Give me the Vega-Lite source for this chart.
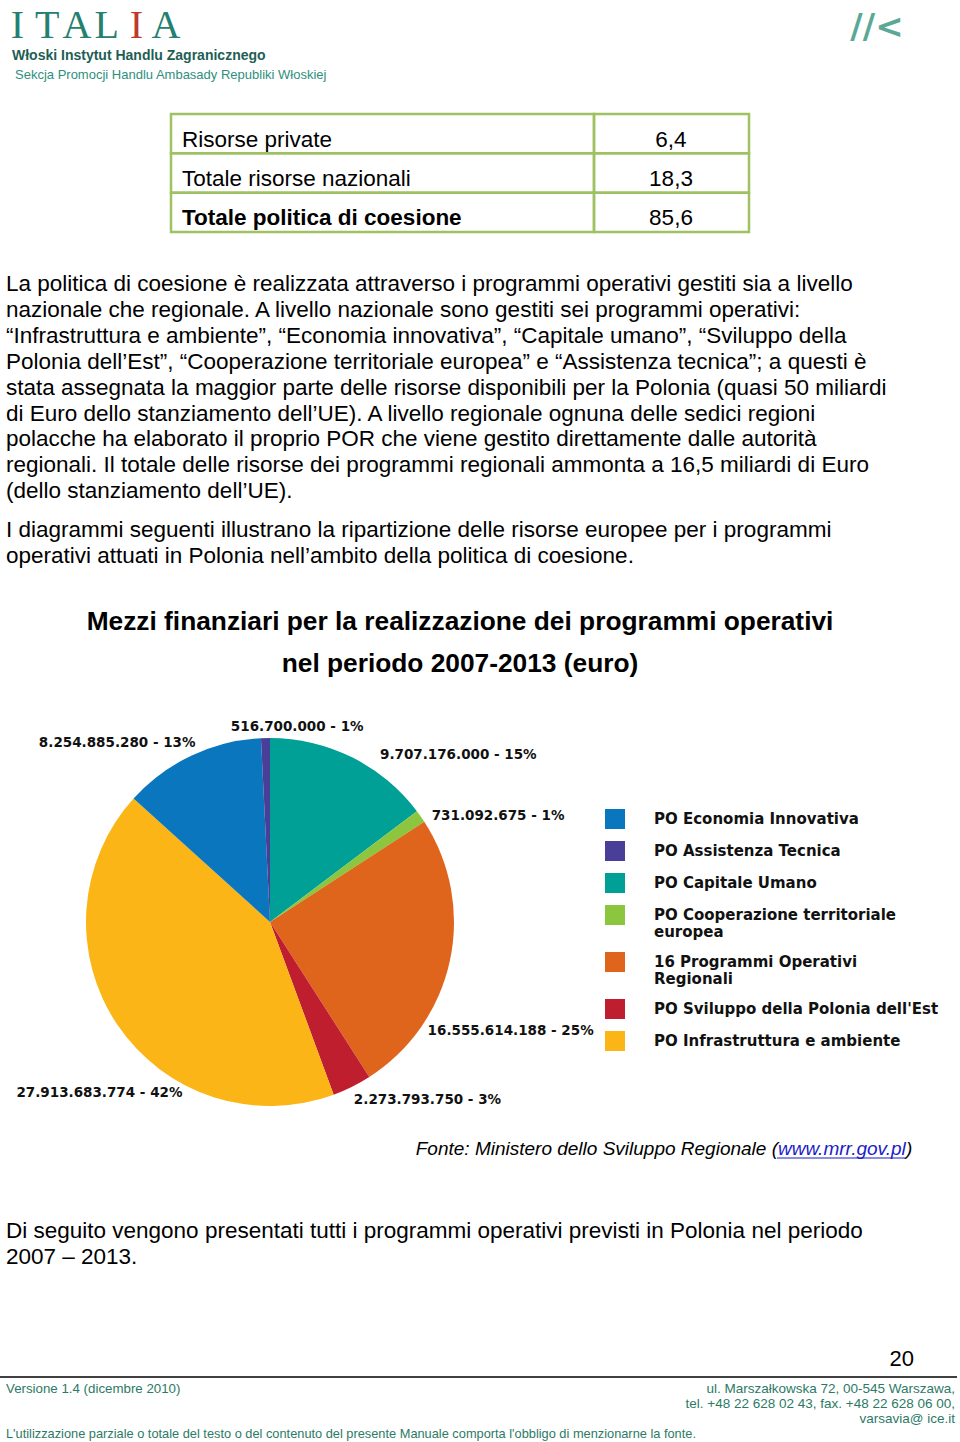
{
  "$schema": "https://vega.github.io/schema/vega-lite/v6.json",
  "width": 960,
  "height": 1442,
  "autosize": {"type": "none"},
  "padding": 0,
  "background": "#ffffff",
  "config": {"view": {"stroke": null}, "text": {"font": "Liberation Sans"}},
  "datasets": {
    "pie": [
      {"program": "PO Capitale Umano", "value": 9707176000, "label": "9.707.176.000 - 15%", "ord": 1},
      {"program": "PO Cooperazione territoriale europea", "value": 731092675, "label": "731.092.675 - 1%", "ord": 2},
      {"program": "16 Programmi Operativi Regionali", "value": 16555614188, "label": "16.555.614.188 - 25%", "ord": 3},
      {"program": "PO Sviluppo della Polonia dell'Est", "value": 2273793750, "label": "2.273.793.750 - 3%", "ord": 4},
      {"program": "PO Infrastruttura e ambiente", "value": 27913683774, "label": "27.913.683.774 - 42%", "ord": 5},
      {"program": "PO Economia Innovativa", "value": 8254885280, "label": "8.254.885.280 - 13%", "ord": 6},
      {"program": "PO Assistenza Tecnica", "value": 516700000, "label": "516.700.000 - 1%", "ord": 7}
    ],
    "table": [
      {"item": "Risorse private", "value": "6,4"},
      {"item": "Totale risorse nazionali", "value": "18,3"},
      {"item": "Totale politica di coesione", "value": "85,6"}
    ],
    "logo": [
      {"letter": "I", "pos": 0},
      {"letter": "T", "pos": 1},
      {"letter": "A", "pos": 2},
      {"letter": "L", "pos": 3},
      {"letter": "I", "pos": 4},
      {"letter": "A", "pos": 5}
    ]
  },
  "layer": [
    {
      "data": {"name": "logo"},
      "mark": {"type": "text", "font": "Liberation Serif", "fontSize": 40, "align": "center", "baseline": "alphabetic"},
      "encoding": {
        "text": {"field": "letter"},
        "x": {"field": "pos", "type": "ordinal", "scale": {"type": "point", "range": [17.5, 166], "padding": 0}, "axis": null},
        "y": {"value": 38},
        "color": {"condition": {"test": "datum.pos == 4", "value": "#C0392B"}, "value": "#24806F"}
      }
    },
    {
      "data": {"values": [{"text": "Włoski Instytut Handlu Zagranicznego"}]},
      "mark": {"type": "text", "fontSize": 14, "fontWeight": "bold", "align": "left", "baseline": "alphabetic", "color": "#1E5E54"},
      "encoding": {"text": {"field": "text"}, "x": {"value": 12}, "y": {"value": 60}}
    },
    {
      "data": {"values": [{"text": "Sekcja Promocji Handlu Ambasady Republiki Włoskiej"}]},
      "mark": {"type": "text", "fontSize": 13, "align": "left", "baseline": "alphabetic", "color": "#2F8F7E"},
      "encoding": {"text": {"field": "text"}, "x": {"value": 15}, "y": {"value": 79}}
    },
    {
      "data": {"values": [{"text": "//<"}]},
      "mark": {"type": "text", "font": "DejaVu Sans", "fontSize": 34, "fontWeight": "bold", "align": "center", "baseline": "alphabetic", "color": "#5BA896"},
      "encoding": {"text": {"field": "text"}, "x": {"value": 877}, "y": {"value": 38}}
    },
    {
      "data": {"name": "table"},
      "mark": {"type": "rect", "filled": false, "stroke": "#9EC162", "strokeWidth": 2.5},
      "encoding": {
        "y": {"field": "item", "type": "nominal", "sort": null, "scale": {"range": [114, 232], "paddingInner": 0, "paddingOuter": 0}, "axis": null},
        "x": {"value": 171},
        "x2": {"value": 594}
      }
    },
    {
      "data": {"name": "table"},
      "mark": {"type": "rect", "filled": false, "stroke": "#9EC162", "strokeWidth": 2.5},
      "encoding": {
        "y": {"field": "item", "type": "nominal", "sort": null, "axis": null},
        "x": {"value": 594},
        "x2": {"value": 749}
      }
    },
    {
      "data": {"name": "table"},
      "mark": {"type": "text", "fontSize": 22.5, "align": "left", "baseline": "alphabetic", "dy": 13, "color": "#000000",
        "fontWeight": {"expr": "datum.item == 'Totale politica di coesione' ? 'bold' : 'normal'"}},
      "encoding": {
        "text": {"field": "item"},
        "y": {"field": "item", "type": "nominal", "sort": null, "axis": null},
        "x": {"value": 182}
      }
    },
    {
      "data": {"name": "table"},
      "mark": {"type": "text", "fontSize": 22.5, "align": "center", "baseline": "alphabetic", "dy": 13, "color": "#000000"},
      "encoding": {
        "text": {"field": "value"},
        "y": {"field": "item", "type": "nominal", "sort": null, "axis": null},
        "x": {"value": 671}
      }
    },
    {
      "data": {"values": [{"text": "La politica di coesione è realizzata attraverso i programmi operativi gestiti sia a livello\nnazionale che regionale. A livello nazionale sono gestiti sei programmi operativi:\n“Infrastruttura e ambiente”, “Economia innovativa”, “Capitale umano”, “Sviluppo della\nPolonia dell’Est”, “Cooperazione territoriale europea” e “Assistenza tecnica”; a questi è\nstata assegnata la maggior parte delle risorse disponibili per la Polonia (quasi 50 miliardi\ndi Euro dello stanziamento dell’UE). A livello regionale ognuna delle sedici regioni\npolacche ha elaborato il proprio POR che viene gestito direttamente dalle autorità\nregionali. Il totale delle risorse dei programmi regionali ammonta a 16,5 miliardi di Euro\n(dello stanziamento dell’UE)."}]},
      "mark": {"type": "text", "fontSize": 22.5, "align": "left", "baseline": "alphabetic", "lineBreak": "\n", "lineHeight": 25.9, "color": "#000000"},
      "encoding": {"text": {"field": "text"}, "x": {"value": 6}, "y": {"value": 291}}
    },
    {
      "data": {"values": [{"text": "I diagrammi seguenti illustrano la ripartizione delle risorse europee per i programmi\noperativi attuati in Polonia nell’ambito della politica di coesione."}]},
      "mark": {"type": "text", "fontSize": 22.5, "align": "left", "baseline": "alphabetic", "lineBreak": "\n", "lineHeight": 25.9, "color": "#000000"},
      "encoding": {"text": {"field": "text"}, "x": {"value": 6}, "y": {"value": 537}}
    },
    {
      "data": {"values": [{"text": "Mezzi finanziari per la realizzazione dei programmi operativi\nnel periodo 2007-2013 (euro)"}]},
      "mark": {"type": "text", "fontSize": 26.3, "fontWeight": "bold", "align": "center", "baseline": "alphabetic", "lineBreak": "\n", "lineHeight": 42, "color": "#000000"},
      "encoding": {"text": {"field": "text"}, "x": {"value": 460}, "y": {"value": 629.5}}
    },
    {
      "data": {"name": "pie"},
      "encoding": {
        "theta": {"field": "value", "type": "quantitative", "stack": true},
        "order": {"field": "ord", "type": "quantitative", "sort": "ascending"},
        "x": {"value": 270},
        "y": {"value": 922}
      },
      "layer": [
        {
          "mark": {"type": "arc", "outerRadius": 184, "strokeWidth": 0},
          "encoding": {
            "color": {
              "field": "program",
              "type": "nominal",
              "scale": {
                "domain": ["PO Economia Innovativa", "PO Assistenza Tecnica", "PO Capitale Umano", "PO Cooperazione territoriale europea", "16 Programmi Operativi Regionali", "PO Sviluppo della Polonia dell'Est", "PO Infrastruttura e ambiente"],
                "range": ["#0A76BE", "#4A3F98", "#00A096", "#8CC63F", "#DF651C", "#BF1E2E", "#FBB516"]
              },
              "legend": {
                "title": null,
                "orient": "none",
                "legendX": 605,
                "legendY": 809,
                "padding": 0,
                "symbolType": "square",
                "symbolSize": 400,
                "symbolStrokeWidth": 0,
                "symbolOpacity": 1,
                "labelFont": "DejaVu Sans",
                "labelFontWeight": "bold",
                "labelFontSize": 15,
                "labelColor": "#111111",
                "labelLimit": 400,
                "labelOffset": 29,
                "rowPadding": 12,
                "labelExpr": "datum.label == 'PO Cooperazione territoriale europea' ? ['PO Cooperazione territoriale', 'europea'] : datum.label == '16 Programmi Operativi Regionali' ? ['16 Programmi Operativi', 'Regionali'] : datum.label"
              }
            }
          }
        },
        {
          "mark": {
            "type": "text",
            "radius": 195,
            "font": "DejaVu Sans",
            "fontWeight": "bold",
            "fontSize": 13.5,
            "color": "#111111",
            "baseline": "middle",
            "align": {"expr": "datum.ord <= 4 ? 'left' : (datum.ord == 7 ? 'center' : 'right')"},
            "dx": {"expr": "[23, 2, -33, -3, 74, 9, 32][datum.ord - 1]"},
            "dy": {"expr": "[8, 6, 68, 3, 62, -3, 0][datum.ord - 1]"}
          },
          "encoding": {"text": {"field": "label"}}
        }
      ]
    },
    {
      "data": {"values": [{"text": "Fonte: Ministero dello Sviluppo Regionale ("}]},
      "mark": {"type": "text", "fontSize": 19, "fontStyle": "italic", "align": "right", "baseline": "alphabetic", "color": "#000000"},
      "encoding": {"text": {"field": "text"}, "x": {"value": 778}, "y": {"value": 1155}}
    },
    {
      "data": {"values": [{"text": "www.mrr.gov.pl"}]},
      "mark": {"type": "text", "fontSize": 19, "fontStyle": "italic", "align": "left", "baseline": "alphabetic", "color": "#1C1CC8"},
      "encoding": {"text": {"field": "text"}, "x": {"value": 778}, "y": {"value": 1155}}
    },
    {
      "data": {"values": [{"text": ")"}]},
      "mark": {"type": "text", "fontSize": 19, "fontStyle": "italic", "align": "left", "baseline": "alphabetic", "color": "#000000"},
      "encoding": {"text": {"field": "text"}, "x": {"value": 906}, "y": {"value": 1155}}
    },
    {
      "data": {"values": [{"link": "www.mrr.gov.pl"}]},
      "mark": {"type": "rule", "color": "#1C1CC8", "strokeWidth": 1.2},
      "encoding": {"x": {"value": 777}, "x2": {"value": 906}, "y": {"value": 1158}}
    },
    {
      "data": {"values": [{"text": "Di seguito vengono presentati tutti i programmi operativi previsti in Polonia nel periodo\n2007 – 2013."}]},
      "mark": {"type": "text", "fontSize": 22.5, "align": "left", "baseline": "alphabetic", "lineBreak": "\n", "lineHeight": 26, "color": "#000000"},
      "encoding": {"text": {"field": "text"}, "x": {"value": 6}, "y": {"value": 1238}}
    },
    {
      "data": {"values": [{"text": "20"}]},
      "mark": {"type": "text", "fontSize": 22, "align": "right", "baseline": "alphabetic", "color": "#000000"},
      "encoding": {"text": {"field": "text"}, "x": {"value": 914}, "y": {"value": 1366}}
    },
    {
      "data": {"values": [{"line": "footer"}]},
      "mark": {"type": "rule", "color": "#000000", "strokeWidth": 1.5},
      "encoding": {"x": {"value": 0}, "x2": {"value": 957}, "y": {"value": 1377}}
    },
    {
      "data": {"values": [{"text": "Versione 1.4 (dicembre 2010)"}]},
      "mark": {"type": "text", "fontSize": 13.3, "align": "left", "baseline": "alphabetic", "color": "#2C7A66"},
      "encoding": {"text": {"field": "text"}, "x": {"value": 6}, "y": {"value": 1393}}
    },
    {
      "data": {"values": [{"text": "ul. Marszałkowska 72, 00-545 Warszawa,\ntel. +48 22 628 02 43, fax. +48 22 628 06 00,\nvarsavia@ ice.it"}]},
      "mark": {"type": "text", "fontSize": 13.5, "align": "right", "baseline": "alphabetic", "lineBreak": "\n", "lineHeight": 15, "color": "#2C7A66"},
      "encoding": {"text": {"field": "text"}, "x": {"value": 955}, "y": {"value": 1393}}
    },
    {
      "data": {"values": [{"text": "L'utilizzazione parziale o totale del testo o del contenuto del presente Manuale comporta l'obbligo di menzionarne la fonte."}]},
      "mark": {"type": "text", "fontSize": 12.8, "align": "left", "baseline": "alphabetic", "color": "#2C7A66"},
      "encoding": {"text": {"field": "text"}, "x": {"value": 6}, "y": {"value": 1438}}
    }
  ]
}
